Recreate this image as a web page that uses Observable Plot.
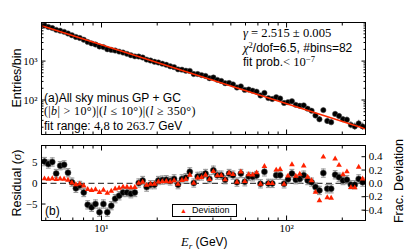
<!DOCTYPE html>
<html><head><meta charset="utf-8">
<script src="https://cdn.jsdelivr.net/npm/d3@7"></script>
<script src="https://cdn.jsdelivr.net/npm/@observablehq/plot@0.6"></script>
<style>
body{margin:0;background:#fff;}
#wrap{position:relative;width:407px;height:251px;overflow:hidden;font-family:"Liberation Sans",Arial,sans-serif;color:#000;background:#fff;}
#wrap svg{position:absolute;left:0;}
.t{position:absolute;white-space:nowrap;line-height:1;font-size:12px;}
.m{font-family:"Liberation Serif","DejaVu Serif",serif;font-size:1.05em;line-height:1;}
.m2{font-family:"Liberation Serif","DejaVu Serif",serif;letter-spacing:0.35px;}
.sup{font-size:0.68em;position:relative;top:-0.5em;line-height:0;}
.sub{font-size:0.72em;position:relative;top:0.3em;line-height:0;}
.rot{transform:translate(-50%,-50%) rotate(-90deg);}
</style></head><body><div id="wrap"></div>
<script>
const energy = [4.92, 5.16, 5.42, 5.69, 5.98, 6.28, 6.59, 6.92, 7.27, 7.63,
8.02, 8.42, 8.84, 9.28, 9.75, 10.24, 10.75, 11.29, 11.85, 12.45,
13.07, 13.73, 14.41, 15.14, 15.89, 16.69, 17.53, 18.40, 19.33, 20.29,
21.31, 22.38, 23.50, 24.68, 25.91, 27.21, 28.57, 30.00, 31.51, 33.09,
34.74, 36.48, 38.31, 40.23, 42.24, 44.36, 46.58, 48.91, 51.36, 53.93,
56.63, 59.47, 62.45, 65.57, 68.86, 72.30, 75.92, 79.73, 83.72, 87.91,
92.31, 96.94, 101.8, 106.9, 112.2, 117.9, 123.8, 130.0, 136.5, 143.3,
150.5, 158.0, 165.9, 174.2, 183.0, 192.1, 201.8, 211.9, 222.5, 233.6,
245.3, 257.6];
const counts = [8156, 7537, 7049, 6351, 6040, 5642, 5111, 4604, 4173, 3925,
3539, 3107, 2843, 2667, 2369, 2288, 2013, 1938, 1867, 1753,
1655, 1535, 1416, 1324, 1307, 1235, 1092, 1034, 958, 921,
858, 804, 734, 699, 613, 602, 566, 560, 464, 464,
436, 415, 363, 378, 330, 309, 270, 274, 252, 209,
224, 182, 186, 174, 164, 131, 152, 112, 106, 118,
109, 84, 88, 93, 75, 71, 73, 60, 53, 40,
32, 55, 29, 27, 44, 39, 32, 31, 23, 21,
25, 21];
const residual = [5.3, 4.7, 5.2, 2.4, 4.3, 4.5, 2.6, 0.3, -1.2, -0.5,
-2.2, -5.2, -5.8, -5.0, -7.0, -5.0, -7.0, -5.4, -3.7, -3.0,
-2.2, -2.2, -2.5, -2.2, 0.1, 0.7, -0.9, -0.3, -0.3, 0.7,
0.8, 0.9, 0.6, 1.1, -0.3, 1.1, 1.4, 2.8, 0.1, 1.7,
1.8, 2.4, 1.1, 3.2, 2.0, 2.0, 0.9, 2.4, 2.0, 0.3,
2.4, 0.4, 1.7, 1.6, 1.9, -0.1, 2.8, 0.0, 0.0, 2.0,
2.0, -0.1, 1.0, 2.4, 0.9, 1.1, 2.0, 0.7, 0.3, -0.9,
-1.7, 2.5, -1.3, -1.3, 2.1, 1.5, 0.7, 0.9, -0.3, -0.3,
1.1, 0.3];
const fracDev = [0.070, 0.066, 0.072, 0.060, 0.068, 0.066, 0.050, 0.010, -0.018, -0.008,
-0.036, -0.089, -0.103, -0.092, -0.134, -0.099, -0.144, -0.115, -0.082, -0.069,
-0.053, -0.055, -0.064, -0.059, 0.003, 0.020, -0.027, -0.009, -0.010, 0.023,
0.028, 0.032, 0.022, 0.042, -0.012, 0.046, 0.061, 0.126, 0.005, 0.082,
0.090, 0.125, 0.059, 0.179, 0.116, 0.120, 0.056, 0.156, 0.134, 0.021,
0.174, 0.030, 0.133, 0.129, 0.160, -0.009, 0.255, 0.000, 0.000, 0.202,
0.211, -0.011, 0.112, 0.282, 0.110, 0.139, 0.263, 0.095, 0.042, -0.132,
-0.258, 0.397, -0.213, -0.220, 0.368, 0.273, 0.132, 0.176, -0.061, -0.064,
0.244, 0.068];
const fitEnergy = [4.8, 263.7];
const fitCounts = [7990, 18.5];
const xMajorTicks = [10, 100];
const xMinorTicks = [5, 6, 7, 8, 9, 20, 30, 40, 50, 60, 70, 80, 90, 200];
const xTickLabels = ["10¹", "10²"];
const yMajorTicks = [100, 1000];
const yMinorTicks = [20, 30, 40, 50, 60, 70, 80, 90, 200, 300, 400, 500, 600, 700, 800, 900, 2000, 3000, 4000, 5000, 6000, 7000, 8000, 9000];
const yTickLabels = ["10²", "10³"];
const resTicks = [-5, 0, 5];
const resTickLabels = ["−5", "0", "5"];
const fracTicks = [-0.4, -0.2, 0, 0.2, 0.4];
const fracTickLabels = ["−0.4", "−0.2", "0.0", "0.2", "0.4"];
const FRAC_TO_SIGMA = 16.2;

const rows = energy.map((e, i) => ({e, n: counts[i], s: residual[i], f: fracDev[i]}));
const fitRows = fitEnergy.map((e, i) => ({e, n: fitCounts[i]}));

const serif = "Liberation Serif, DejaVu Serif, serif";
const W = 407, ML = 41, MR = 42;
const xDomain = [4.74, 267];
const blank = () => "";
const cap = {draw(ctx, size) { const r = Math.sqrt(size / Math.PI); ctx.moveTo(-r, 0); ctx.lineTo(r, 0); }};
const labelOf = (vals, labels) => d => { const k = vals.findIndex(v => Math.abs(v - d) < 1e-9 * Math.max(1, Math.abs(v))); return k < 0 ? "" : labels[k]; };

function inTicksX(major, minor) {
  return [
    Plot.axisX(major.slice(), {anchor: "bottom", tickSize: 4.5, dy: -4.5, tickFormat: blank, label: null}),
    Plot.axisX(minor.slice(), {anchor: "bottom", tickSize: 2.5, dy: -2.5, tickFormat: blank, label: null}),
    Plot.axisX(major.slice(), {anchor: "top", tickSize: 4.5, dy: 4.5, tickFormat: blank, label: null}),
    Plot.axisX(minor.slice(), {anchor: "top", tickSize: 2.5, dy: 2.5, tickFormat: blank, label: null})
  ];
}

const topPlot = Plot.plot({
  width: W, height: 140, marginTop: 22, marginBottom: 6, marginLeft: ML, marginRight: MR,
  style: {background: "transparent", overflow: "visible"},
  x: {type: "log", domain: xDomain, label: null},
  y: {type: "log", domain: [13, 9800], label: null},
  marks: [
    Plot.ruleX(rows, {x: "e", y1: d => d.n - Math.sqrt(d.n), y2: d => d.n + Math.sqrt(d.n), stroke: "#8c8c8c", strokeWidth: 1.2}),
    Plot.dot(rows, {x: "e", y: "n", r: 2.7, fill: "black", stroke: "#555", strokeWidth: 0.5}),
    Plot.line(fitRows, {x: "e", y: "n", stroke: "#ff2a00", strokeWidth: 1.7}),
    ...inTicksX(xMajorTicks, xMinorTicks),
    Plot.axisY(yMajorTicks.slice(), {anchor: "left", tickSize: 4.5, dx: 4.5, tickFormat: blank, label: null}),
    Plot.axisY(yMinorTicks.slice(), {anchor: "left", tickSize: 2.5, dx: 2.5, tickFormat: blank, label: null}),
    Plot.axisY(yMajorTicks.slice(), {anchor: "right", tickSize: 4.5, dx: -4.5, tickFormat: blank, label: null}),
    Plot.axisY(yMinorTicks.slice(), {anchor: "right", tickSize: 2.5, dx: -2.5, tickFormat: blank, label: null}),
    Plot.axisY(yMajorTicks.slice(), {anchor: "left", tickSize: 0, tickPadding: 4, textAnchor: "end", tickFormat: labelOf(yMajorTicks, yTickLabels), fontFamily: serif, fontSize: 11, label: null}),
    Plot.frame({stroke: "black", strokeWidth: 1})
  ]
});
topPlot.style.top = "0px";

const fracPos = fracTicks.map(f => f * FRAC_TO_SIGMA);
const bottomPlot = Plot.plot({
  width: W, height: 111, marginTop: 5, marginBottom: 31, marginLeft: ML, marginRight: MR,
  style: {background: "transparent", overflow: "visible"},
  x: {type: "log", domain: xDomain, label: null},
  y: {domain: [-9.0, 9.2], label: null},
  marks: [
    Plot.ruleY([0], {stroke: "#444", strokeWidth: 1.3, strokeDasharray: "6,3.5"}),
    Plot.ruleX(rows, {x: "e", y1: d => d.s - 1, y2: d => d.s + 1, stroke: "#999", strokeWidth: 1.1}),
    Plot.dot(rows, {x: "e", y: d => d.s + 1, symbol: cap, r: 2.4, stroke: "#999", strokeWidth: 1.1}),
    Plot.dot(rows, {x: "e", y: d => d.s - 1, symbol: cap, r: 2.4, stroke: "#999", strokeWidth: 1.1}),
    Plot.dot(rows, {x: "e", y: "s", r: 3, fill: "black", stroke: "#555", strokeWidth: 0.5}),
    Plot.dot(rows, {x: "e", y: d => d.f * FRAC_TO_SIGMA, symbol: "triangle", r: 2.1, fill: "#ff2200"}),
    ...inTicksX(xMajorTicks, xMinorTicks),
    Plot.axisX(xMajorTicks.slice(), {anchor: "bottom", tickSize: 0, tickPadding: 4, tickFormat: labelOf(xMajorTicks, xTickLabels), fontFamily: serif, fontSize: 11, label: null}),
    Plot.axisY(resTicks.slice(), {anchor: "left", tickSize: 4.5, dx: 4.5, tickFormat: blank, label: null}),
    Plot.axisY(resTicks.slice(), {anchor: "left", tickSize: 0, tickPadding: 4, textAnchor: "end", tickFormat: labelOf(resTicks, resTickLabels), fontFamily: serif, fontSize: 11, label: null}),
    Plot.axisY(fracPos.slice(), {anchor: "right", tickSize: 4.5, dx: -4.5, tickFormat: blank, label: null}),
    Plot.axisY(fracPos.slice(), {anchor: "right", tickSize: 0, tickPadding: 17, textAnchor: "end", tickFormat: labelOf(fracPos, fracTickLabels), fontFamily: serif, fontSize: 11, label: null}),
    Plot.frame({stroke: "black", strokeWidth: 1})
  ]
});
bottomPlot.style.top = "140px";

const wrap = document.getElementById("wrap");
wrap.append(topPlot, bottomPlot);

function addText(html, left, cy, extraClass = "", size = 12) {
  const d = document.createElement("div");
  d.className = "t " + extraClass;
  d.style.fontSize = size + "px";
  d.innerHTML = html;
  wrap.append(d);
  d.style.left = left + "px";
  d.style.top = extraClass.includes("rot") ? cy + "px" : (cy - size * 0.55) + "px";
  return d;
}
addText('<span class="m"><i>γ</i> = 2.515 ± 0.005</span>', 243, 34);
addText('<span class="m"><i>χ</i><span class="sup">2</span></span>/dof=6.5, #bins=82', 243, 49);
addText('fit prob.<span class="m">&lt; 10<span class="sup">−7</span></span>', 243, 63);
addText('(a)All sky minus GP + GC', 44, 99);
addText('(|<i>b</i>| &gt; 10°)|(<i>l</i> ≤ 10°)|(<i>l</i> ≥ 350°)', 44, 112, "m2");
addText('fit range: <span class="m">4.8</span> to <span class="m">263.7</span> GeV', 44, 127);
addText('Entries/bin', 17, 78, "rot", 12.5);
addText('Residual (<span class="m"><i>σ</i></span>)', 17, 183, "rot", 12.5);
addText('Frac. Deviation', 399, 181, "rot", 12.5);
addText('<span class="m"><i>E</i><span class="sub"><i>r</i></span></span> (GeV)', 181, 243);
addText('(b)', 45, 212);

const leg = document.createElement("div");
leg.style.cssText = "position:absolute;left:172px;top:204px;width:63px;height:11px;border:1px solid #000;background:#fff;font-size:9px;line-height:11px;";
leg.innerHTML = '<span style="position:absolute;left:7px;top:0;color:#ff2200;font-size:7px;">▲</span><span style="position:absolute;left:19px;top:0;">Deviation</span>';
wrap.append(leg);
</script></body></html>
